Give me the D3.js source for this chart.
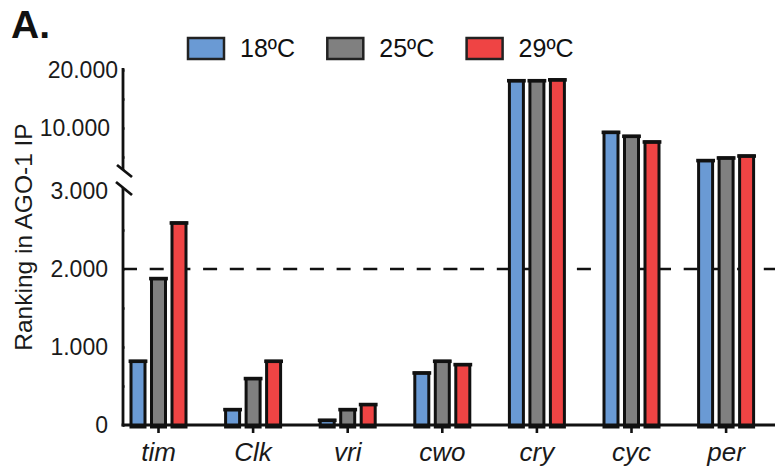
<!DOCTYPE html>
<html>
<head>
<meta charset="utf-8">
<script src="https://cdn.jsdelivr.net/npm/d3@7"></script>
<style>
  html, body { margin: 0; padding: 0; background: #fff; }
  svg { display: block; font-family: "Liberation Sans", Arial, Helvetica, sans-serif; }
</style>
</head>
<body>
<script>
// Gene rankings in the AGO-1 immunoprecipitation at three temperatures
const categories = ["tim", "Clk", "vri", "cwo", "cry", "cyc", "per"];
const series = ["18ºC", "25ºC", "29ºC"];
const values18 = [817, 197, 60, 667, 18150, 9250, 4380];
const values25 = [1877, 595, 197, 817, 18150, 8570, 4830];
const values29 = [2590, 817, 262, 774, 18300, 7590, 5170];
const lowerTickValues = [0, 1000, 2000, 3000];
const lowerMinorTicks = [500, 1500, 2500];
const upperTickValues = [10000, 20000];
const upperMinorTicks = [5000, 15000];
const cutoff = 2000;

const colors = ["#6a9ad4", "#808080", "#ef4444"];
const seriesValues = [values18, values25, values29];

const W = 775, H = 475;
const axisX = 123;
const ink = "#111";

const svg = d3.select("body").append("svg")
  .attr("width", W).attr("height", H);

// Scales: one band per gene, a sub-band per temperature, and a split y axis
const x = d3.scaleBand().domain(categories).range([111.2, 773.4]).padding(0);
const xs = d3.scaleBand().domain(series).range([-27.5, 27.5]).paddingInner(0.317);
const breakValue = 3000;
const yLow = d3.scaleLinear().domain([0, 3000]).range([425, 191]);
const yHigh = d3.scaleLinear().domain([10000, 20000]).range([128, 70]);
const yPos = v => (v <= breakValue ? yLow(v) : yHigh(v));

const fmt = d3.formatLocale({ decimal: ",", thousands: ".", grouping: [3], currency: ["", ""] }).format(",");

// Dashed cut-off line behind the bars
svg.append("line")
  .attr("x1", axisX).attr("x2", W)
  .attr("y1", yLow(cutoff)).attr("y2", yLow(cutoff))
  .attr("stroke", ink).attr("stroke-width", 2.6)
  .attr("stroke-dasharray", "14,12.7");

// Bars
const rows = [];
categories.forEach((c, i) => {
  series.forEach((s, j) => rows.push({ cat: c, ser: s, j, value: seriesValues[j][i] }));
});
const baseY = yLow(0);
const barX = d => x(d.cat) + x.bandwidth() / 2 + xs(d.ser);
const bars = svg.append("g");
bars.selectAll("rect").data(rows).join("rect")
  .attr("x", barX)
  .attr("width", xs.bandwidth())
  .attr("y", d => yPos(d.value))
  .attr("height", d => baseY + 2 - yPos(d.value))
  .attr("fill", d => colors[d.j])
  .attr("stroke", ink).attr("stroke-width", 3);
// heavier cap on top of each bar
bars.selectAll("line").data(rows).join("line")
  .attr("x1", d => barX(d) - 2.4)
  .attr("x2", d => barX(d) + xs.bandwidth() + 2.4)
  .attr("y1", d => yPos(d.value))
  .attr("y2", d => yPos(d.value))
  .attr("stroke", ink).attr("stroke-width", 3.6);

// Y axes (lower and upper segments)
function styleAxis(g) {
  g.select(".domain").remove();
  g.selectAll(".tick line").attr("stroke", ink).attr("stroke-width", 2.6).attr("x2", 1.5);
  g.selectAll(".tick text")
    .attr("fill", "#1a1a1a")
    .style("font-size", "23px")
    .style("font-family", "'Liberation Sans', Arial, Helvetica, sans-serif");
}

const gLow = svg.append("g").attr("transform", `translate(${axisX},0)`)
  .call(d3.axisLeft(yLow).tickValues(lowerTickValues).tickSize(10).tickPadding(5).tickFormat(fmt))
  .call(styleAxis);
gLow.selectAll(".tick").filter(d => d === 3000).select("line").remove();

svg.append("g").attr("transform", `translate(${axisX},0)`)
  .call(d3.axisLeft(yLow).tickValues(lowerMinorTicks).tickSize(9).tickFormat(""))
  .call(styleAxis);

const gHigh = svg.append("g").attr("transform", `translate(${axisX},0)`)
  .call(d3.axisLeft(yHigh).tickValues(upperTickValues).tickSize(10).tickPadding(5).tickFormat(fmt))
  .call(styleAxis);
gHigh.selectAll(".tick").filter(d => d === 20000).select("text").attr("x", -5);
gHigh.selectAll(".tick").filter(d => d === 10000).select("text").attr("x", -13);
gHigh.selectAll(".tick").raise();
gHigh.selectAll(".tick line").raise();

svg.append("g").attr("transform", `translate(${axisX},0)`)
  .call(d3.axisLeft(yHigh).tickValues(upperMinorTicks).tickSize(9).tickFormat(""))
  .call(styleAxis);

// Axis spine with break marks
const spine = svg.append("g").attr("stroke", ink).attr("stroke-width", 2.8).attr("fill", "none");
spine.append("line").attr("x1", axisX).attr("x2", axisX).attr("y1", yHigh(20350)).attr("y2", 170);
spine.append("line").attr("x1", 117).attr("y1", 165).attr("x2", 132).attr("y2", 177);
spine.append("line").attr("x1", 116).attr("y1", 182).attr("x2", 132).attr("y2", 195);
spine.append("line").attr("x1", axisX).attr("x2", axisX).attr("y1", 188).attr("y2", baseY + 1.4);

// X axis
const gx = svg.append("g").attr("transform", `translate(0,${baseY})`)
  .call(d3.axisBottom(x).tickSize(8).tickSizeOuter(0));
gx.select(".domain").remove();
gx.selectAll(".tick line").attr("stroke", ink).attr("stroke-width", 2.6);
gx.selectAll(".tick text")
  .attr("y", 36).attr("dy", 0)
  .attr("fill", "#1a1a1a")
  .style("font-size", "26px")
  .style("font-style", "italic")
  .style("font-family", "'Liberation Sans', Arial, Helvetica, sans-serif");
svg.append("line")
  .attr("x1", axisX - 1.4).attr("x2", W)
  .attr("y1", baseY).attr("y2", baseY)
  .attr("stroke", ink).attr("stroke-width", 2.8);

// Y axis title
svg.append("text")
  .attr("transform", "translate(32,237) rotate(-90)")
  .attr("text-anchor", "middle")
  .attr("fill", "#1a1a1a")
  .style("font-size", "24.5px")
  .text("Ranking in AGO-1 IP");

// Panel label
svg.append("text")
  .attr("x", 11).attr("y", 38)
  .attr("fill", "#111")
  .style("font-size", "39px").style("font-weight", "bold")
  .text("A.");

// Legend
const legend = svg.append("g").selectAll("g").data(series).join("g")
  .attr("transform", (d, i) => `translate(${188 + i * 139.3},0)`);
legend.append("rect")
  .attr("x", 0).attr("y", 38).attr("width", 36).attr("height", 21)
  .attr("fill", (d, i) => colors[i])
  .attr("stroke", "#222").attr("stroke-width", 2.5);
legend.append("text")
  .attr("x", 52).attr("y", 57)
  .attr("fill", "#111")
  .style("font-size", "25px")
  .text(d => d);
</script>
</body>
</html>
